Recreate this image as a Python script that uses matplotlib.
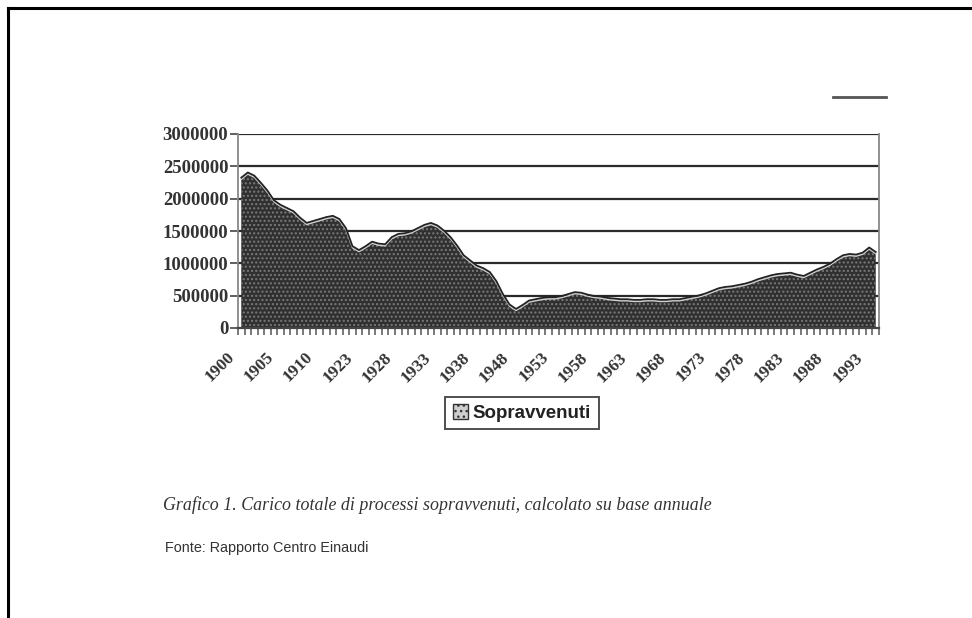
import matplotlib
matplotlib.use("Agg")
import matplotlib.pyplot as plt
from matplotlib.lines import Line2D
from matplotlib.patches import Patch
from matplotlib.transforms import ScaledTranslation
import numpy as np

# ---- data ----
values = [
    2300000, 2380000, 2330000, 2220000, 2100000, 1950000, 1880000, 1830000, 1780000, 1680000,
    1600000, 1630000, 1660000, 1690000, 1710000, 1660000, 1520000, 1240000, 1180000, 1240000,
    1310000, 1280000, 1270000, 1380000, 1430000, 1440000, 1470000, 1520000, 1570000, 1600000,
    1560000, 1480000, 1380000, 1250000, 1100000, 1020000, 940000, 900000, 840000, 700000,
    500000, 340000, 270000, 330000, 400000, 420000, 440000, 450000, 450000,
    470000, 500000, 530000, 520000, 490000, 470000, 460000, 440000, 430000, 420000,
    420000, 410000, 410000, 420000, 420000, 410000, 410000, 420000, 420000, 440000,
    460000, 480000, 510000, 550000, 590000, 610000, 620000, 640000, 660000, 690000,
    730000, 760000, 790000, 810000, 820000, 830000, 800000, 780000, 830000,
    880000, 920000, 970000, 1040000, 1100000, 1120000, 1110000, 1140000, 1220000, 1150000,
]
tick_labels = ["1900", "1905", "1910", "1923", "1928", "1933", "1938", "1948", "1953",
               "1958", "1963", "1968", "1973", "1978", "1983", "1988", "1993"]
y_ticks = [0, 500000, 1000000, 1500000, 2000000, 2500000, 3000000]
series_name = "Sopravvenuti"
caption = "Grafico 1. Carico totale di processi sopravvenuti, calcolato su base annuale"
source = "Fonte: Rapporto Centro Einaudi"

# ---- figure ----
W, H = 972, 618
fig = plt.figure(figsize=(W / 100, H / 100), dpi=100)
fig.patch.set_facecolor("white")

ax = fig.add_axes([238 / W, 1 - 328 / H, (879 - 238) / W, (328 - 134) / H])
n = len(values)
x = np.arange(n) + 0.5
ax.set_xlim(0, n)
ax.set_ylim(0, 3000000)

# area fill with stipple texture
ax.fill_between(x, 0, values, facecolor="#303030", edgecolor="#7a7a7a",
                hatch="....", linewidth=0, zorder=2)
ax.plot(x, values, color="#d0d0d0", lw=1.0, zorder=3)
ax.plot(x, np.array(values) + 25000, color="#222222", lw=1.3, zorder=3)

# gridlines
for yv in y_ticks[1:]:
    ax.axhline(yv, color="#2a2a2a", lw=1.6, zorder=1)

ax.set_yticks(y_ticks)
ax.set_yticklabels([str(v) for v in y_ticks], fontfamily="Liberation Serif",
                   fontweight="bold", fontsize=13.5, color="#333333")
ax.tick_params(axis="y", direction="out", length=6, width=1.2, color="#444444", pad=1)

ax.set_xticks(np.arange(0, n + 1), minor=True)
major = np.arange(0, n, 6)
ax.set_xticks(major + 0.5)
ax.set_xticklabels(tick_labels[: len(major)], rotation=45, ha="right",
                   va="center", rotation_mode="anchor", fontfamily="Liberation Serif",
                   fontweight="bold", fontsize=12.5, color="#333333")
ax.tick_params(axis="x", which="major", length=0, pad=18)
ax.tick_params(axis="x", which="minor", direction="out", length=5, width=1.1, color="#555555")
offset = ScaledTranslation(-0.09, -0.02, fig.dpi_scale_trans)
for lab in ax.get_xticklabels():
    lab.set_transform(lab.get_transform() + offset)

ax.spines["top"].set_visible(False)
ax.spines["left"].set_color("#888888")
ax.spines["left"].set_linewidth(1.3)
ax.spines["right"].set_color("#888888")
ax.spines["right"].set_linewidth(1.3)
ax.spines["bottom"].set_color("#444444")
ax.spines["bottom"].set_linewidth(1.6)

# legend
handle = Patch(facecolor="#cfcfcf", edgecolor="#333333", hatch="...", linewidth=1)
leg = fig.legend([handle], [series_name], loc="center",
                 bbox_to_anchor=(522 / W, 1 - 413 / H), frameon=True, fancybox=False,
                 handlelength=0.8, handleheight=0.8, handletextpad=0.25,
                 borderpad=0.4, prop={"family": "Liberation Sans", "weight": "bold", "size": 13.5})
leg.get_frame().set_edgecolor("#222222")
leg.get_frame().set_linewidth(1.4)
for t in leg.get_texts():
    t.set_color("#222222")

# caption and source
fig.text(163 / W, 1 - 505 / H, caption, fontfamily="Liberation Serif", style="italic",
         fontsize=12.9, color="#333333", va="center", ha="left")
fig.text(165 / W, 1 - 548 / H, source, fontfamily="Liberation Sans", fontsize=10.4,
         color="#333333", va="center", ha="left")

# page frame and stray mark
fig.add_artist(Line2D([8 / W, 1.0], [1 - 8 / H, 1 - 8 / H], color="black", lw=2.2,
                      transform=fig.transFigure))
fig.add_artist(Line2D([8 / W, 8 / W], [0, 1 - 8 / H], color="black", lw=2.2,
                      transform=fig.transFigure))
fig.add_artist(Line2D([833 / W, 886 / W], [1 - 97 / H, 1 - 97 / H], color="#555555", lw=2,
                      transform=fig.transFigure))

fig.savefig("out.png", dpi=100, facecolor="white")
